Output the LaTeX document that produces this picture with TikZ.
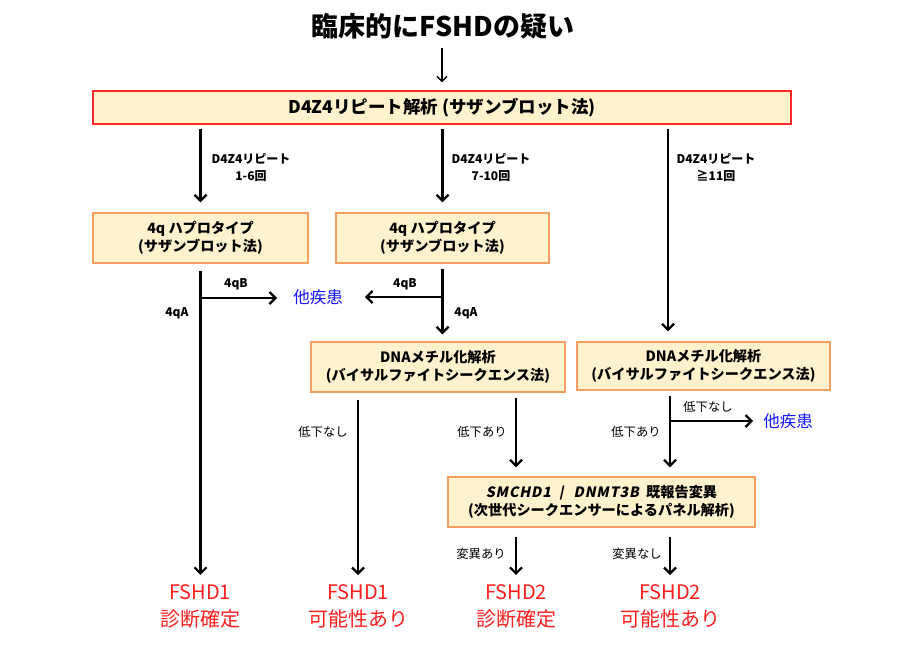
\documentclass[tikz,border=0pt]{standalone}
\usepackage{fontspec}
\setmainfont{Noto Sans CJK JP}
\newfontfamily\gene{Noto Sans CJK JP}[FakeSlant=0.2,LetterSpace=6]
\usetikzlibrary{arrows.meta}
\definecolor{boxfill}{RGB}{255,242,204}
\definecolor{boxline}{RGB}{244,160,96}
\definecolor{redline}{RGB}{255,40,40}
\definecolor{restxt}{RGB}{255,30,30}
\definecolor{othtxt}{RGB}{20,20,255}
\tikzset{
  titlebox/.style={font=\bfseries\fontsize{27}{30}\selectfont,inner sep=0pt},
  mainbox/.style={draw=redline,line width=1.2pt,fill=boxfill,minimum width=698pt,minimum height=33pt,inner sep=0pt,font=\bfseries\fontsize{17.5}{20}\selectfont},
  stepbox/.style={draw=boxline,line width=1.4pt,fill=boxfill,inner sep=0pt,align=center,font=\bfseries\fontsize{14.2}{18.5}\selectfont},
  lbl/.style={font=\bfseries\fontsize{12}{17}\selectfont,align=center,inner sep=0pt},
  lblr/.style={font=\fontsize{12.3}{15}\selectfont,align=center,inner sep=0pt},
  result/.style={text=restxt,font=\fontsize{20}{27}\selectfont,align=center,inner sep=0pt},
  other/.style={text=othtxt,font=\fontsize{16.5}{19}\selectfont,inner sep=0pt},
  arr/.style={line width=2.4pt,-{Straight Barb[length=6pt,width=12pt,line width=2.2pt]}},
  thinarr/.style={line width=1.4pt,-{Straight Barb[length=5pt,width=10pt,line width=1.4pt]}},
}
\begin{document}
\begin{tikzpicture}[x=1pt,y=-1pt]
\useasboundingbox (0,0) rectangle (918,659);
\node[titlebox] (title) at (443,26) {臨床的にFSHDの疑い};
\node[mainbox] (top) at (442,107.5) {D4Z4リピート解析 (サザンブロット法)};
\node[stepbox,minimum width=215pt,minimum height=50pt] (q1) at (200.5,238) {4q ハプロタイプ\\(サザンブロット法)};
\node[stepbox,minimum width=213pt,minimum height=50pt] (q2) at (442.5,238) {4q ハプロタイプ\\(サザンブロット法)};
\node[stepbox,minimum width=254pt,minimum height=50pt] (dm) at (438,367) {DNAメチル化解析\\(バイサルファイトシークエンス法)};
\node[stepbox,minimum width=253pt,minimum height=48pt] (dr) at (703.5,366) {DNAメチル化解析\\(バイサルファイトシークエンス法)};
\node[stepbox,minimum width=307pt,minimum height=50pt] (sm) at (601.5,502) {{\gene\bfseries SMCHD1}\hspace{0.6em}/\hspace{0.6em}{\gene\bfseries DNMT3B}\hspace{0.5em}既報告変異\\(次世代シークエンサーによるパネル解析)};
\node[other] (o1) at (318,297) {他疾患};
\node[other] (o2) at (788,421) {他疾患};
\node[result] (r1) at (200,606) {FSHD1\\診断確定};
\node[result] (r2) at (358,606) {FSHD1\\可能性あり};
\node[result] (r3) at (516,606) {FSHD2\\診断確定};
\node[result] (r4) at (670,606) {FSHD2\\可能性あり};
% labels
\node[lbl] (l1) at (251,168) {D4Z4リピート\\1-6回};
\node[lbl] (l2) at (491,168) {D4Z4リピート\\7-10回};
\node[lbl] (l3) at (716,168) {D4Z4リピート\\≧11回};
\node[lbl] (l4) at (236,284) {4qB};
\node[lbl] (l5) at (177,313) {4qA};
\node[lbl] (l6) at (405,284) {4qB};
\node[lbl] (l7) at (466,313) {4qA};
\node[lblr] (l8) at (323,432) {低下なし};
\node[lblr] (l9) at (482,432) {低下あり};
\node[lblr] (l10) at (708,407) {低下なし};
\node[lblr] (l11) at (636,432) {低下あり};
\node[lblr] (l12) at (481,554) {変異あり};
\node[lblr] (l13) at (637,554) {変異なし};
% coordinates
\coordinate (c3) at (668,0);
\coordinate (c4) at (516,0);
\coordinate (c5) at (358,0);
\coordinate (c6) at (670,0);
\coordinate (b1) at (200.5,298);
\coordinate (b2) at (442,297);
\coordinate (b3) at (670,421);
% arrows
\draw[thinarr,shorten <=9pt,shorten >=8pt] (title.south -| top.north) -- (top.north);
\draw[arr,shorten <=4pt,shorten >=10pt] (top.south -| q1.north) -- (q1.north);
\draw[arr,shorten <=4pt,shorten >=10pt] (top.south -| q2.north) -- (q2.north);
\draw[arr,shorten <=4pt,shorten >=10pt] (top.south -| c3) -- (dr.north -| c3);
\draw[arr,shorten <=7pt,shorten >=9pt] (q1.south) -- (q1.south |- r1.north);
\draw[arr,shorten >=16pt] (b1) -- (o1.west |- b1);
\draw[arr,shorten <=5pt,shorten >=7pt] (q2.south) -- (dm.north -| q2.south);
\draw[arr,shorten >=22pt] (b2) -- (o1.east |- b2);
\draw[arr,shorten <=7pt,shorten >=9pt] (dm.south -| c5) -- (r2.north);
\draw[arr,shorten <=5pt,shorten >=9pt] (dm.south -| c4) -- (sm.north -| c4);
\draw[arr,shorten <=5pt,shorten >=9pt] (dr.south -| c6) -- (sm.north -| c6);
\draw[arr,shorten >=10pt] (b3) -- (o2.west |- b3);
\draw[arr,shorten <=9pt,shorten >=9pt] (sm.south -| c4) -- (r3.north);
\draw[arr,shorten <=9pt,shorten >=9pt] (sm.south -| c6) -- (r4.north);
\end{tikzpicture}
\end{document}
